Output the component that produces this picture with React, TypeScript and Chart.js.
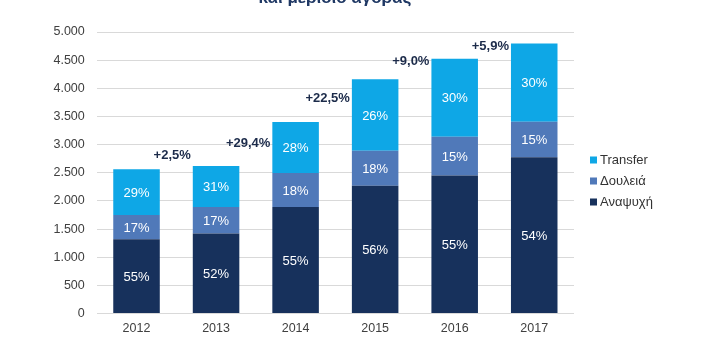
import React, { useEffect, useRef } from "react";
import { Chart, registerables } from "chart.js";

Chart.register(...registerables);

const years = ["2012", "2013", "2014", "2015", "2016", "2017"];
const anapsyxi = [1320, 1420, 1890, 2270, 2450, 2775];
const douleia = [430, 470, 605, 620, 690, 630];
const transfer = [811, 730, 905, 1270, 1385, 1390];
const anapsyxiPct = ["55%", "52%", "55%", "56%", "55%", "54%"];
const douleiaPct = ["17%", "17%", "18%", "18%", "15%", "15%"];
const transferPct = ["29%", "31%", "28%", "26%", "30%", "30%"];
const growthLabels = ["", "+2,5%", "+29,4%", "+22,5%", "+9,0%", "+5,9%"];
const growthAnchor = [0, 2815, 3028, 3828, 4485, 4739];
const titleText = "και μερίδιο αγοράς";

const C_TRANSFER = "#0ea7e6";
const C_DOULEIA = "#5079b9";
const C_ANAPSYXI = "#17315c";
const FONT = "'Liberation Sans', Arial, sans-serif";

const pctLabels = [anapsyxiPct, douleiaPct, transferPct];

const overlay = {
  id: "overlay",
  afterDatasetsDraw(chart: any) {
    const ctx = chart.ctx;
    ctx.save();
    ctx.font = `13px ${FONT}`;
    ctx.fillStyle = "#ffffff";
    ctx.textAlign = "center";
    ctx.textBaseline = "middle";
    chart.data.datasets.forEach((ds: any, di: number) => {
      const meta = chart.getDatasetMeta(di);
      meta.data.forEach((bar: any, i: number) => {
        const y = (bar.y + bar.base) / 2;
        ctx.fillText(pctLabels[di][i], bar.x, y + 1);
      });
    });
    ctx.font = `bold 13px ${FONT}`;
    ctx.fillStyle = "#1c2b4a";
    ctx.textAlign = "right";
    const yScale = chart.scales.y;
    const meta0 = chart.getDatasetMeta(0);
    growthLabels.forEach((t, i) => {
      if (!t) return;
      const bar = meta0.data[i];
      const left = bar.x - bar.width / 2;
      ctx.fillText(t, left - 2, yScale.getPixelForValue(growthAnchor[i]));
    });
    ctx.font = `bold 17px ${FONT}`;
    ctx.fillStyle = "#1f3864";
    ctx.textAlign = "center";
    ctx.textBaseline = "alphabetic";
    ctx.fillText(titleText, 335, 3);
    const items = [
      { t: "Transfer", c: C_TRANSFER },
      { t: "Δουλειά", c: C_DOULEIA },
      { t: "Αναψυχή", c: C_ANAPSYXI },
    ];
    ctx.font = `13px ${FONT}`;
    ctx.textAlign = "left";
    ctx.textBaseline = "middle";
    items.forEach((it, k) => {
      const cy = 160 + k * 21;
      ctx.fillStyle = it.c;
      ctx.fillRect(590, cy - 3.5, 7, 7);
      ctx.fillStyle = "#333333";
      ctx.fillText(it.t, 600, cy);
    });
    ctx.restore();
  },
};

export default function App() {
  const ref = useRef<HTMLCanvasElement | null>(null);
  useEffect(() => {
    if (!ref.current) return;
    const chart = new Chart(ref.current, {
      type: "bar",
      data: {
        labels: years,
        datasets: [
          { label: "Αναψυχή", data: anapsyxi, backgroundColor: C_ANAPSYXI },
          { label: "Δουλειά", data: douleia, backgroundColor: C_DOULEIA },
          { label: "Transfer", data: transfer, backgroundColor: C_TRANSFER },
        ],
      },
      options: {
        animation: false,
        responsive: true,
        maintainAspectRatio: false,
        layout: { padding: { top: 32, right: 146, bottom: 0, left: 0 } },
        datasets: { bar: { categoryPercentage: 1, barPercentage: 0.585 } } as any,
        plugins: { legend: { display: false }, tooltip: { enabled: false }, title: { display: false } },
        scales: {
          x: {
            stacked: true,
            grid: { display: false, drawTicks: false },
            border: { display: false },
            ticks: { padding: 8, color: "#404040", font: { family: FONT, size: 12.5 } },
            afterFit(s: any) { s.height = 26.5; },
          },
          y: {
            stacked: true,
            min: 0,
            max: 5000,
            grid: { color: "#d9d9d9", drawTicks: false },
            border: { display: false },
            ticks: {
              stepSize: 500,
              padding: 12,
              color: "#404040",
              font: { family: FONT, size: 12.5 },
              callback: (v: any) => Number(v).toLocaleString("de-DE"),
            },
            afterFit(s: any) { s.width = 96.75; },
          },
        },
      },
      plugins: [overlay],
    });
    return () => chart.destroy();
  }, []);
  return (
    <div style={{ position: "fixed", left: 0, top: 0, width: 720, height: 340, background: "#fff" }}>
      <canvas ref={ref} />
    </div>
  );
}
